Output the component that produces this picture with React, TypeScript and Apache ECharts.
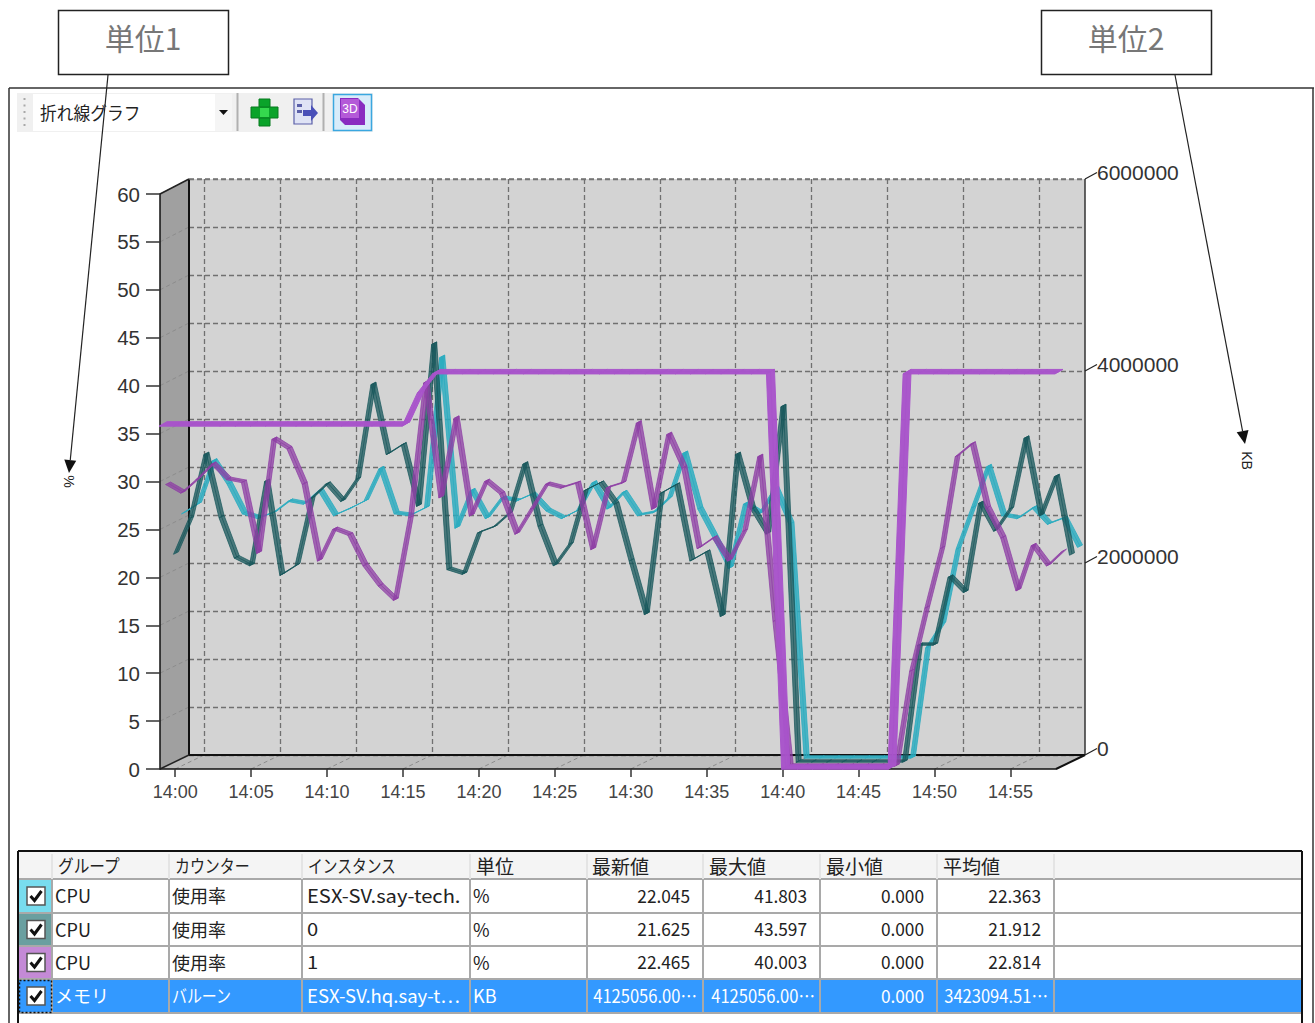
import React, { useEffect, useRef } from "react";
import * as echarts from "echarts";

const categories = [
  "13:59","14:00","14:01","14:02","14:03","14:04","14:05","14:06","14:07","14:08","14:09","14:10",
  "14:11","14:12","14:13","14:14","14:15","14:16","14:17","14:18","14:19","14:20","14:21","14:22",
  "14:23","14:24","14:25","14:26","14:27","14:28","14:29","14:30","14:31","14:32","14:33","14:34",
  "14:35","14:36","14:37","14:38","14:39","14:40","14:41","14:42","14:43","14:44","14:45","14:46",
  "14:47","14:48","14:49","14:50","14:51","14:52","14:53","14:54","14:55","14:56","14:57","14:58",
];
const cpuTotal = [25.5,26.5,31.0,28.6,25.5,25.0,25.6,26.8,26.5,27.9,25.3,26.0,26.8,30.2,25.5,25.3,26.1,41.8,24.0,27.9,25.0,27.1,26.8,27.5,25.8,25.0,25.8,28.7,26.0,27.7,25.3,25.6,27.1,31.8,26.0,23.0,19.8,26.5,25.5,28.1,24.4,0,0,0,0,0,0,0,0,11.5,14.0,21.8,26.1,30.4,25.3,25.0,26.1,24.4,25.0,22.0];
const cpu0 = [21.7,25.4,32.1,25.5,21.3,20.5,29.3,19.5,20.5,27.5,29.0,27.2,29.5,39.4,32.1,33.1,26.7,43.6,20.1,19.6,23.9,24.5,25.9,31.1,24.6,20.5,22.7,28.3,29.1,26.9,21.0,15.4,28.0,28.9,21.0,21.9,15.2,32.1,26.4,23.8,37.1,0,0,0,0,0,0,0,0,12.2,12.2,19.3,17.7,27.0,24.1,26.4,33.8,25.7,29.8,21.6];
const cpu1 = [29.4,28.5,29.9,31.5,29.9,29.6,22.2,34.1,33.1,29.4,21.4,24.7,24.1,20.9,18.8,17.3,25.9,40.0,28.0,36.3,26.1,29.7,28.4,24.2,26.8,29.4,29.0,29.5,22.6,29.0,29.5,35.8,26.8,34.6,31.1,22.7,23.8,21.4,24.5,32.3,15.1,0,0,0,0,0,0,0,0,9.9,16.5,22.7,32.3,33.6,26.9,23.8,18.3,23.0,20.9,22.4];
const balloon = [3580000,3580000,3580000,3580000,3580000,3580000,3580000,3580000,3580000,3580000,3580000,3580000,3580000,3580000,3580000,3580000,3580000,3923000,4125056,4125056,4125056,4125056,4125056,4125056,4125056,4125056,4125056,4125056,4125056,4125056,4125056,4125056,4125056,4125056,4125056,4125056,4125056,4125056,4125056,4125056,4125056,0,0,0,0,0,0,0,0,4125056,4125056,4125056,4125056,4125056,4125056,4125056,4125056,4125056,4125056,4125056];

const headers = ["グループ","カウンター","インスタンス","単位","最新値","最大値","最小値","平均値"];
const groupCol = ["CPU","CPU","CPU","メモリ"];
const counterCol = ["使用率","使用率","使用率","バルーン"];
const instanceCol = ["ESX-SV.say-tech.","0","1","ESX-SV.hq.say-t…"];
const unitCol = ["%","%","%","KB"];
const latestCol = ["22.045","21.625","22.465","4125056.00…"];
const maxCol = ["41.803","43.597","40.003","4125056.00…"];
const minCol = ["0.000","0.000","0.000","0.000"];
const avgCol = ["22.363","21.912","22.814","3423094.51…"];
const swatches = ["#78dcee","#6a9fa0","#c48ad6","#3399ff"];

const FONT = "'Liberation Sans', Arial, sans-serif";
const JP = "'Noto Sans CJK JP', sans-serif";

const FX = 160, FY = 194, W = 896, H = 575; // front plane
const BX = 189, BY = 179, BH = 576; // back wall
const isTick = (i: number) => (i - 1) % 5 === 0;

function ribbon(values: number[], dx: number, dy: number, fill: string) {
  return (params: any, api: any) => {
    const i = params.dataIndex;
    if (i >= values.length - 1) return null;
    const a = api.coord([i, values[i]]);
    const b = api.coord([i + 1, values[i + 1]]);
    return {
      type: "polygon",
      shape: {
        points: [
          [a[0] - dx / 2, a[1] - dy / 2],
          [b[0] - dx / 2, b[1] - dy / 2],
          [b[0] + dx / 2, b[1] + dy / 2],
          [a[0] + dx / 2, a[1] + dy / 2],
        ],
      },
      style: { fill, stroke: fill, lineWidth: 1 },
    };
  };
}

function t(text: string, x: number, y: number, font: string, size: number, fill: string, align = "left", scaleX = 1, z = 100) {
  return {
    type: "text", x, y, scaleX, z,
    style: { text, fill, font: `${size}px ${font}`, align, verticalAlign: "middle" },
  };
}
const rect = (x: number, y: number, w: number, h: number, fill: string, stroke = "none", lw = 1, z = 90) => ({
  type: "rect", z, shape: { x, y, width: w, height: h }, style: { fill, stroke, lineWidth: lw },
});
const line = (x1: number, y1: number, x2: number, y2: number, stroke: string, lw = 1, z = 90, dash?: number[]) => ({
  type: "line", z, shape: { x1, y1, x2, y2 }, style: { stroke, lineWidth: lw, lineDash: dash },
});
const poly = (points: number[][], fill: string, stroke = "none", z = 90, lw = 1) => ({
  type: "polygon", z, shape: { points }, style: { fill, stroke, lineWidth: lw },
});
function arrow(x1: number, y1: number, x2: number, y2: number) {
  const len = Math.hypot(x2 - x1, y2 - y1);
  const ux = (x2 - x1) / len, uy = (y2 - y1) / len;
  const bx = x2 - ux * 13, by = y2 - uy * 13;
  return [
    line(x1, y1, bx, by, "#222", 1.2, 110),
    poly([[x2, y2], [bx - uy * 6, by + ux * 6], [bx + uy * 6, by - ux * 6]], "#111", "none", 110),
  ];
}

function chrome() {
  const els: any[] = [];
  const stepY = H / 12, stepBack = BH / 12;
  // 3D walls
  els.push(poly([[FX, FY], [BX, BY], [BX, BY + BH], [FX, FY + H]], "#a0a0a0", "none", -10));
  els.push(rect(BX, BY, W, BH, "#d3d3d3", "none", 1, -10));
  els.push(poly([[FX, FY + H], [BX, BY + BH], [BX + W, BY + BH], [FX + W, FY + H]], "#bdbdbd", "none", -10));
  for (let k = 1; k <= 12; k++) {
    els.push(line(FX, FY + H - k * stepY, BX, BY + BH - k * stepBack, "#8c8c8c", 1, -9, [4, 3]));
  }
  categories.forEach((_, i) => {
    if (isTick(i)) {
      const x = FX + (i * W) / (categories.length - 1);
      els.push(line(x, FY + H, x + 29, BY + BH, "#8c8c8c", 1, -9, [4, 3]));
    }
  });
  els.push(line(BX, BY, BX, BY + BH, "#111", 2, 1));
  els.push(line(BX, BY + BH, BX + W, BY + BH, "#111", 2, 1));
  els.push(line(BX + W, BY, BX + W, BY + BH, "#333", 1.5, 1));
  els.push(line(BX, BY, BX + W, BY, "#777", 1.3, 1, [5, 3]));
  els.push(line(FX, FY, BX, BY, "#222", 1.5, 1));
  els.push(line(FX, FY + H, BX, BY + BH, "#222", 1.5, 1));
  els.push(line(FX + W, FY + H, BX + W, BY + BH, "#111", 2, 1));
  // slanted ticks for the right axis
  for (let k = 0; k <= 3; k++) {
    const y = BY + BH - (k * BH) / 3;
    els.push(line(BX + W, y, BX + W + 12, y - 6.5, "#222", 1.2, 1));
  }

  // Outer frame and toolbar
  els.push(line(9, 88, 1314, 88, "#333", 1.5));
  els.push(line(9, 88, 9, 1023, "#333", 1.5));
  els.push(line(1313, 88, 1313, 1023, "#333", 1.5));
  els.push(rect(17, 93, 356, 39, "#f0f0f0"));
  els.push(rect(33, 94, 182, 37, "#ffffff"));
  for (let k = 0; k < 5; k++) els.push(rect(23.5, 98 + k * 6.5, 2, 2, "#a8a8a8"));
  els.push(t("折れ線グラフ", 40, 112, JP, 18, "#222", "left", 0.93));
  els.push(rect(215, 94, 17, 37, "#f5f5f5"));
  els.push(poly([[219, 110], [228, 110], [223.5, 115]], "#111"));
  els.push(line(237.5, 93, 237.5, 131, "#b0b0b0", 2));
  els.push(line(323.5, 93, 323.5, 131, "#b0b0b0", 2));
  // plus icon
  els.push(rect(259, 99, 11, 27, "#0aa32a", "#067a1e", 1));
  els.push(rect(251, 107, 27, 11, "#0aa32a", "#067a1e", 1));
  els.push(rect(260, 108, 9, 9, "#35d84e"));
  // export icon
  els.push(rect(294, 99, 18, 25, "#dfe3f5", "#5a5fa8", 1.2));
  els.push(poly([[303, 116], [303, 110], [311, 110], [311, 105], [318, 113], [311, 121], [311, 116]], "#4a50b8"));
  els.push(rect(297, 104, 5, 3, "#5a5fa8"));
  els.push(rect(297, 110, 5, 3, "#5a5fa8"));
  // 3D button
  els.push(rect(333.5, 94.5, 38, 36, "#d8ecfa", "#3aa7e0", 1.5));
  els.push(poly([[340, 98], [358, 98], [365, 105], [365, 125], [345, 125], [340, 120]], "#8a2cc0"));
  els.push(rect(341, 99, 18, 19, "#b45ad8"));
  els.push(t("3D", 350, 109, FONT, 12, "#ffffff", "center"));

  // Annotation boxes
  els.push(rect(58.5, 10.5, 170, 64, "#ffffff", "#222", 1.5, 105));
  els.push(t("単位1", 143, 37, JP, 30, "#777", "center", 1, 106));
  els.push(rect(1041.5, 10.5, 170, 64, "#ffffff", "#222", 1.5, 105));
  els.push(t("単位2", 1126, 37, JP, 30, "#777", "center", 1, 106));
  els.push(...arrow(108, 75, 69, 473));
  els.push(...arrow(1175, 75, 1245, 444));

  // Table
  const cols = [18, 52, 169, 302, 470, 587, 703, 820, 937, 1054, 1302];
  const rows = [879, 913, 946, 979, 1013];
  els.push(rect(19, 852, 1282, 27, "#f4f4f4"));
  els.push(rect(52, 979.5, 1249, 33.5, "#3399ff"));
  rows.forEach((_, r) => {
    if (r === rows.length - 1) return;
    els.push(rect(19, rows[r], 32, rows[r + 1] - rows[r], swatches[r]));
  });
  rows.forEach((y) => els.push(line(18, y, 1302, y, "#a9a9a9", 2)));
  cols.slice(1, 10).forEach((x) => els.push(line(x, 879, x, 1013, "#a9a9a9", 2)));
  cols.slice(1, 10).forEach((x) => els.push(line(x, 854, x, 879, "#e4e4e4", 2)));
  els.push(line(18, 851, 1302, 851, "#111", 2));
  els.push(line(18, 851, 18, 1023, "#111", 2));
  els.push(line(1302, 851, 1302, 1023, "#111", 2));
  els.push({ type: "rect", z: 95, shape: { x: 19.5, y: 980.5, width: 32, height: 32 }, style: { fill: "none", stroke: "#111", lineWidth: 1.5, lineDash: [2, 2] } });

  const headerX = [58, 175, 308, 476, 592, 709, 826, 943];
  headers.forEach((h, i) => {
    const kana = i < 3;
    els.push(t(h, headerX[i], 865, JP, kana ? 18 : 19, "#222", "left", kana ? [0.87, 0.83, 0.82][i] : 1));
  });
  for (let r = 0; r < 4; r++) {
    const cy = (rows[r] + rows[r + 1]) / 2;
    const ty = cy - 1;
    const sel = r === 3;
    const color = sel ? "#ffffff" : "#222";
    els.push(rect(27, cy - 9, 18, 18, "#ffffff", "#555", 1.5, 96));
    els.push({ type: "polyline", z: 97, shape: { points: [[30.5, cy], [34.5, cy + 4.5], [41.5, cy - 5]] }, style: { stroke: "#111", lineWidth: 3, fill: "none" } });
    els.push(t(groupCol[r], 55, ty, JP, 18, color));
    els.push(t(counterCol[r], 172, ty, JP, 18, color, "left", sel ? 0.83 : 1));
    els.push(t(instanceCol[r], 307, ty, JP, 18, color, "left", sel ? 1.03 : 1.12));
    els.push(t(unitCol[r], 473, ty, JP, 18, color));
    els.push(t(latestCol[r], sel ? 697 : 690, ty, JP, 18, color, "right", sel ? 0.92 : 0.96));
    els.push(t(maxCol[r], sel ? 815 : 807, ty, JP, 18, color, "right", sel ? 0.92 : 0.96));
    els.push(t(minCol[r], 924, ty, JP, 18, color, "right", 0.96));
    els.push(t(avgCol[r], sel ? 1048 : 1041, ty, JP, 18, color, "right", sel ? 0.92 : 0.96));
  }
  return els;
}

const hiddenAxis = { show: false };

export default function App() {
  const ref = useRef<HTMLDivElement>(null);
  useEffect(() => {
    const chart = echarts.init(ref.current!, undefined, { renderer: "svg" });
    const seriesDefs = [
      { name: "CPU 使用率 ESX-SV", values: cpuTotal, max: 60, dx: 24, dy: -12, color: "rgba(44,172,192,0.82)", rx: 5, ry: -2.5 },
      { name: "CPU 使用率 0", values: cpu0, max: 60, dx: 16, dy: -8, color: "rgba(24,88,92,0.74)", rx: 5, ry: -2.5 },
      { name: "CPU 使用率 1", values: cpu1, max: 60, dx: 8, dy: -4, color: "rgba(142,62,164,0.74)", rx: 5, ry: -2.5 },
      { name: "メモリ バルーン", values: balloon, max: 6000000, dx: 3, dy: -2, color: "rgba(168,84,202,0.97)", rx: 8, ry: -4.5 },
    ];
    const grids: any[] = [
      { left: BX, top: BY, width: W, height: BH },
      { left: FX, top: FY, width: W, height: H },
      { left: BX, top: BY - 6.5, width: W + 12, height: BH },
    ];
    const xAxes: any[] = [
      {
        gridIndex: 0, type: "category", data: categories, boundaryGap: false,
        axisLine: { show: false }, axisTick: { show: false }, axisLabel: { show: false },
        splitLine: { show: true, interval: isTick, lineStyle: { color: "#707070", type: [5, 3], width: 1.3 } },
      },
      {
        gridIndex: 1, type: "category", data: categories, boundaryGap: false,
        axisLine: { show: true, lineStyle: { color: "#111", width: 1.5 } },
        axisTick: { show: true, interval: isTick, length: 8, lineStyle: { color: "#333", width: 1.5 } },
        axisLabel: { show: true, interval: isTick, margin: 14, color: "#444", fontFamily: FONT, fontSize: 18 },
      },
      { gridIndex: 2, type: "category", data: categories, ...hiddenAxis },
    ];
    const yAxes: any[] = [
      {
        gridIndex: 0, type: "value", min: 0, max: 60, interval: 5,
        axisLine: { show: false }, axisTick: { show: false }, axisLabel: { show: false },
        splitLine: { show: true, lineStyle: { color: "#707070", type: [5, 3], width: 1.3 } },
      },
      {
        gridIndex: 1, type: "value", min: 0, max: 60, interval: 5,
        name: "%", nameLocation: "middle", nameGap: 84, nameRotate: -90,
        nameTextStyle: { color: "#222", fontFamily: FONT, fontSize: 14 },
        axisLine: { show: true, lineStyle: { color: "#111", width: 1.5 } },
        axisTick: { show: true, length: 14, lineStyle: { color: "#333", width: 1.5 } },
        axisLabel: { margin: 20, color: "#333", fontFamily: FONT, fontSize: 20.5 },
        splitLine: { show: false },
      },
      {
        gridIndex: 2, type: "value", position: "right", min: 0, max: 6000000, interval: 2000000,
        name: "KB", nameLocation: "middle", nameGap: 143, nameRotate: -90,
        nameTextStyle: { color: "#222", fontFamily: FONT, fontSize: 14 },
        axisLine: { show: false }, axisTick: { show: false },
        axisLabel: { margin: 0, color: "#333", fontFamily: FONT, fontSize: 21, formatter: (v: number) => String(v) },
        splitLine: { show: false },
      },
    ];
    const series: any[] = [];
    seriesDefs.forEach((d, k) => {
      const gi = 3 + k;
      grids.push({ left: FX + d.dx, top: FY + d.dy, width: W, height: H });
      xAxes.push({ gridIndex: gi, type: "category", data: categories, boundaryGap: false, ...hiddenAxis });
      yAxes.push({ gridIndex: gi, type: "value", min: 0, max: d.max, ...hiddenAxis });
      series.push({
        name: d.name, type: "custom", coordinateSystem: "cartesian2d", xAxisIndex: gi, yAxisIndex: gi,
        data: d.values.map((v, i) => [i, v]), encode: { x: 0, y: 1 },
        renderItem: ribbon(d.values, d.rx, d.ry, d.color), silent: true, z: 3 + k,
      });
      series.push({
        name: d.name, type: "line", xAxisIndex: gi, yAxisIndex: gi, data: d.values, showSymbol: false,
        lineStyle: { color: d.color, width: 1 }, silent: true, z: 3 + k, clip: false,
      });
    });
    chart.setOption({
      animation: false,
      backgroundColor: "#ffffff",
      grid: grids,
      xAxis: xAxes,
      yAxis: yAxes,
      series,
      graphic: { elements: chrome() },
    });
    return () => chart.dispose();
  }, []);
  return <div ref={ref} style={{ position: "absolute", left: 0, top: 0, width: 1315, height: 1023 }} />;
}
